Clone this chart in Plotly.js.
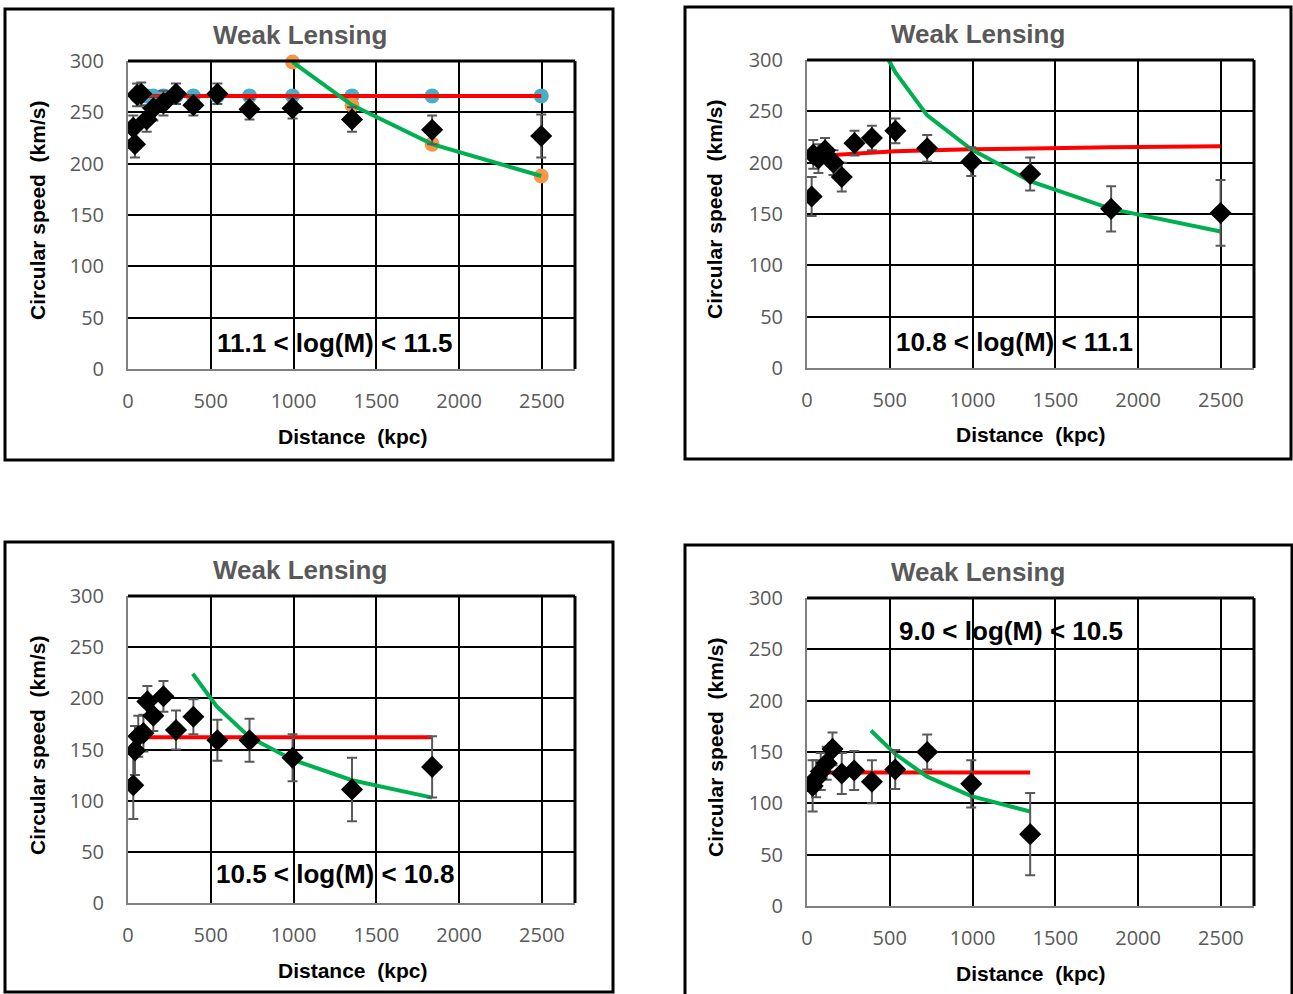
<!DOCTYPE html>
<html>
<head>
<meta charset="utf-8">
<script src="https://cdn.plot.ly/plotly-3.0.1.min.js"></script>
<style>html,body{margin:0;padding:0;background:#fff;}#chart{width:1293px;height:994px;}</style>
</head>
<body>
<div id="chart"></div>
<script>
// ---------- DATA ----------
const panelTitle = "Weak Lensing";
const massLabels = ["11.1 < log(M) < 11.5", "10.8 < log(M) < 11.1", "10.5 < log(M) < 10.8", "9.0 < log(M) < 10.5"];
const xTickVals = [0, 500, 1000, 1500, 2000, 2500];
const yTickVals = [0, 50, 100, 150, 200, 250, 300];

// Panel 1: 11.1 < log(M) < 11.5
const r1 = [32, 42, 55, 80, 113, 153, 214, 290, 395, 540, 734, 994, 1353, 1837, 2496];
const v1 = [235, 219, 267, 268, 243, 254, 259, 268, 257, 268, 253, 254, 243, 233, 227];
const e1 = [12, 13, 11, 11, 12, 12, 12, 10, 10, 10, 10, 10, 12, 14, 21];
const rBlue1 = [55, 80, 113, 153, 214, 290, 395, 540, 734, 994, 1353, 1837, 2496];
const vBlue1 = [266, 266, 266, 266, 266, 266, 266, 266, 266, 266, 266, 266, 266];
const rRed1 = [113, 290, 540, 994, 1353, 1837, 2496];
const vRed1 = [266, 266, 266, 266, 266, 266, 266];
const rGreen1 = [994, 1353, 1837, 2496];
const vGreen1 = [299, 257, 219, 188];

// Panel 2: 10.8 < log(M) < 11.1
const r2 = [28, 38, 69, 109, 160, 210, 287, 392, 534, 726, 992, 1348, 1837, 2498];
const v2 = [167, 208, 204, 212, 200, 186, 219, 224, 231, 214, 201, 189, 155, 151];
const e2 = [19, 14, 14, 12, 12, 14, 12, 12, 12, 13, 14, 16, 22, 32];
const rRed2 = [109, 287, 534, 992, 1348, 1837, 2498];
const vRed2 = [207, 209, 211, 213, 214, 215, 216];
const rGreen2 = [392, 534, 726, 992, 1348, 1837, 2498];
const vGreen2 = [329, 288, 246, 213, 182, 155, 133];

// Panel 3: 10.5 < log(M) < 10.8
const r3 = [32, 42, 62, 93, 117, 153, 214, 290, 395, 540, 734, 994, 1353, 1837];
const v3 = [115, 149, 163, 166, 197, 183, 202, 169, 182, 159, 159, 142, 111, 133];
const e3 = [33, 24, 20, 18, 15, 15, 15, 19, 17, 20, 21, 23, 31, 30];
const rRed3 = [113, 290, 540, 994, 1353, 1837];
const vRed3 = [162, 162, 162, 162, 162, 162];
const rGreen3 = [391, 536, 734, 994, 1353, 1837];
const vGreen3 = [224, 192, 162, 140, 120, 103];

// Panel 4: 9.0 < log(M) < 10.5
const r4 = [34, 55, 83, 119, 154, 210, 285, 392, 533, 726, 992, 1348];
const v4 = [117, 124, 131, 139, 153, 129, 132, 121, 133, 150, 119, 70];
const e4 = [25, 18, 18, 16, 16, 20, 19, 21, 19, 17, 23, 40];
const rRed4 = [110, 285, 533, 992, 1348];
const vRed4 = [130, 130, 130, 130, 130];
const rGreen4 = [386, 533, 726, 992, 1348];
const vGreen4 = [171, 148, 126, 107, 92];

// ---------- LAYOUT HELPERS ----------
const W = 1293, H = 994;
const px = x => x / W;
const py = y => 1 - y / H;

const panels = [
  {plot: [128, 575, 61, 369], box: [5, 613, 9, 460], title: [300, 35], xt: [352, 436], yt: [37, 211], lab: [1253, 25],
   r: r1, v: v1, e: e1, rR: rRed1, vR: vRed1, rG: rGreen1, vG: vGreen1, blue: [rBlue1, vBlue1], orange: true},
  {plot: [807, 1254, 60, 368], box: [685, 1291, 7, 459], title: [978, 34], xt: [1030, 435], yt: [715, 210], lab: [1253, 25],
   r: r2, v: v2, e: e2, rR: rRed2, vR: vRed2, rG: rGreen2, vG: vGreen2},
  {plot: [128, 575, 596, 903], box: [5, 613, 542, 992], title: [300, 570], xt: [352, 970], yt: [37, 746], lab: [1253, 28],
   r: r3, v: v3, e: e3, rR: rRed3, vR: vRed3, rG: rGreen3, vG: vGreen3},
  {plot: [807, 1254, 598, 906], box: [685, 1292, 545, 1000], title: [978, 572], xt: [1030, 973], yt: [715, 748], lab: [1232, 268],
   r: r4, v: v4, e: e4, rR: rRed4, vR: vRed4, rG: rGreen4, vG: vGreen4}
];

const data = [];
const layout = {
  width: W, height: H,
  margin: {l: 0, r: 0, t: 0, b: 0},
  paper_bgcolor: '#fff', plot_bgcolor: '#fff',
  showlegend: false,
  shapes: [], annotations: []
};

panels.forEach((p, i) => {
  const n = i === 0 ? '' : String(i + 1);
  const xa = 'x' + n, ya = 'y' + n;
  layout['xaxis' + n] = {
    domain: [px(p.plot[0]), px(p.plot[1])], anchor: ya,
    range: [0, 2700], tickvals: xTickVals, ticktext: xTickVals.map(String),
    showgrid: true, gridcolor: '#000', gridwidth: 2, zeroline: false,
    showline: true, linecolor: '#808080', linewidth: 2, ticks: '',
    ticklabelstandoff: 13,
    tickfont: {family: 'Open Sans', size: 20, color: '#595959'}, fixedrange: true
  };
  layout['yaxis' + n] = {
    domain: [py(p.plot[3]), py(p.plot[2])], anchor: xa,
    range: [0, 300], tickvals: yTickVals, ticktext: yTickVals.map(String),
    showgrid: true, gridcolor: '#000', gridwidth: 2, zeroline: false,
    showline: true, linecolor: '#808080', linewidth: 2, ticks: '',
    ticklabelstandoff: 18,
    tickfont: {family: 'Open Sans', size: 20, color: '#595959'}, fixedrange: true
  };
  // plot-area top & right borders
  layout.shapes.push({type: 'line', xref: xa + ' domain', yref: ya + ' domain', x0: 0, x1: 1, y0: 1, y1: 1, line: {color: '#000', width: 3}});
  layout.shapes.push({type: 'line', xref: xa + ' domain', yref: ya + ' domain', x0: 1, x1: 1, y0: 0, y1: 1, line: {color: '#000', width: 3}});
  // outer chart box
  layout.shapes.push({type: 'rect', xref: 'paper', yref: 'paper', x0: px(p.box[0]), x1: px(p.box[1]), y0: py(p.box[3]), y1: py(p.box[2]), line: {color: '#000', width: 3}});
  // titles
  layout.annotations.push({xref: 'paper', yref: 'paper', x: px(p.title[0]), y: py(p.title[1]), xanchor: 'center', yanchor: 'middle', showarrow: false,
    text: '<b>' + panelTitle + '</b>', font: {family: 'Liberation Sans', size: 26, color: '#595959'}});
  layout.annotations.push({xref: 'paper', yref: 'paper', x: px(p.xt[0]), y: py(p.xt[1]), xanchor: 'center', yanchor: 'middle', showarrow: false,
    text: '<b>Distance\u00A0 (kpc)</b>', font: {family: 'Liberation Sans', size: 21, color: '#000'}});
  layout.annotations.push({xref: 'paper', yref: 'paper', x: px(p.yt[0]), y: py(p.yt[1]), xanchor: 'center', yanchor: 'middle', showarrow: false, textangle: -90,
    text: '<b>Circular speed\u00A0 (km/s)</b>', font: {family: 'Liberation Sans', size: 21, color: '#000'}});
  layout.annotations.push({xref: xa, yref: ya, x: p.lab[0], y: p.lab[1], xanchor: 'center', yanchor: 'middle', showarrow: false,
    text: '<b>' + massLabels[i] + '</b>', font: {family: 'Liberation Sans', size: 26, color: '#000'}});

  if (p.blue) {
    data.push({x: p.blue[0], y: p.blue[1], xaxis: xa, yaxis: ya, type: 'scatter', mode: 'markers',
      marker: {symbol: 'circle', size: 15, color: '#4BACC6'}, hoverinfo: 'skip'});
  }
  data.push({x: p.rR, y: p.vR, xaxis: xa, yaxis: ya, type: 'scatter', mode: 'lines',
    line: {color: '#FF0000', width: 4}, hoverinfo: 'skip'});
  if (p.orange) {
    data.push({x: p.rG, y: p.vG, xaxis: xa, yaxis: ya, type: 'scatter', mode: 'markers',
      marker: {symbol: 'circle', size: 15, color: '#F79646'}, hoverinfo: 'skip', cliponaxis: false});
  }
  data.push({x: p.rG, y: p.vG, xaxis: xa, yaxis: ya, type: 'scatter', mode: 'lines',
    line: {color: '#00B050', width: 4}, hoverinfo: 'skip'});
  data.push({x: p.r, y: p.v, xaxis: xa, yaxis: ya, type: 'scatter', mode: 'markers',
    marker: {symbol: 'diamond', size: 17, color: '#000'},
    error_y: {type: 'data', array: p.e, visible: true, color: '#595959', thickness: 2, width: 5},
    hoverinfo: 'skip'});
});

Plotly.newPlot('chart', data, layout, {staticPlot: true, displayModeBar: false});
</script>
</body>
</html>
